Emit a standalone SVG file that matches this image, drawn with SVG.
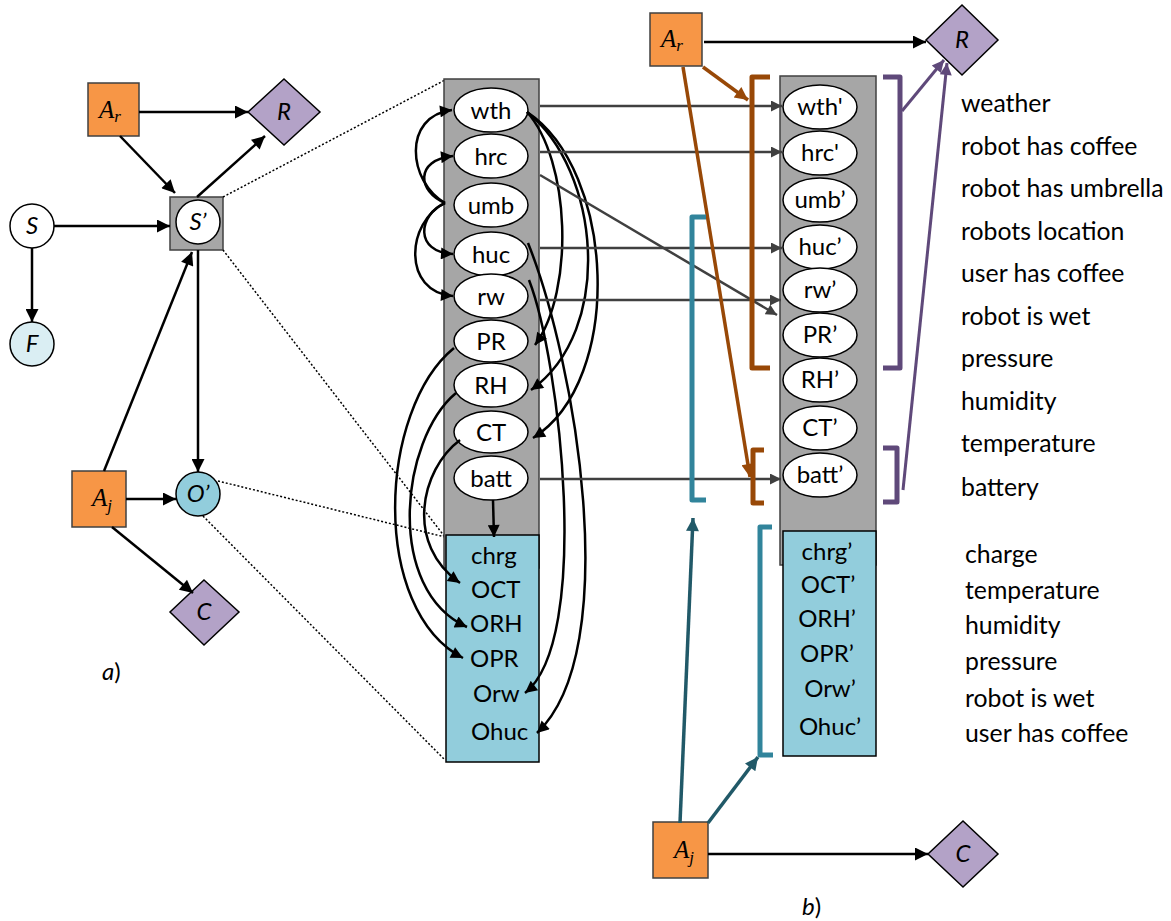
<svg xmlns="http://www.w3.org/2000/svg" width="1171" height="921" viewBox="0 0 1171 921">
  <defs>
    <style>
      .lbl{font-family:Lato,"Liberation Sans",sans-serif;font-size:24px;fill:#000}
      .leg{font-size:24.8px}
      .it{font-style:italic}
      .mid{text-anchor:middle}
      .math{font-family:"Liberation Serif",serif;font-style:italic;font-size:25px;fill:#000}
      .sub{font-size:17px}
      .act{fill:#F79646;stroke:#404040;stroke-width:1.5}
      .util{fill:#B3A2C7;stroke:#000;stroke-width:1.5}
      .var{fill:#fff;stroke:#000;stroke-width:1.5}
      .col{fill:#A6A6A6;stroke:#404040;stroke-width:1.5}
      .obs{fill:#92CDDC;stroke:#000;stroke-width:1.5}
      .blk{fill:none;stroke:#000;stroke-width:2.5}
      .crv{fill:none;stroke:#000;stroke-width:2.5}
      .gry{fill:none;stroke:#404040;stroke-width:2.5}
      .dot{fill:none;stroke:#000;stroke-width:1.5;stroke-dasharray:2 2}
      .org{fill:none;stroke:#984807;stroke-width:3.5}
      .tea{fill:none;stroke:#215968;stroke-width:3.5}
      .pur{fill:none;stroke:#5F497A;stroke-width:3}
      .brO{fill:none;stroke:#984807;stroke-width:5;stroke-linejoin:round}
      .brP{fill:none;stroke:#5F497A;stroke-width:5;stroke-linejoin:round}
      .brT{fill:none;stroke:#31849B;stroke-width:5;stroke-linejoin:round}
    </style>
    <marker id="ah" viewBox="0 0 10 10" refX="10" refY="5" markerWidth="15" markerHeight="13" markerUnits="userSpaceOnUse" orient="auto">
      <path d="M0,0 L10,5 L0,10 z" fill="#000"/>
    </marker>
    <marker id="ahs" viewBox="0 0 10 10" refX="10" refY="5" markerWidth="14" markerHeight="12" markerUnits="userSpaceOnUse" orient="auto">
      <path d="M0,0 L10,5 L0,10 z" fill="#000"/>
    </marker>
    <marker id="ahg" viewBox="0 0 10 10" refX="10" refY="5" markerWidth="13" markerHeight="11" markerUnits="userSpaceOnUse" orient="auto">
      <path d="M0,0 L10,5 L0,10 z" fill="#404040"/>
    </marker>
    <marker id="aho" viewBox="0 0 10 10" refX="10" refY="5" markerWidth="15" markerHeight="13" markerUnits="userSpaceOnUse" orient="auto">
      <path d="M0,0 L10,5 L0,10 z" fill="#984807"/>
    </marker>
    <marker id="aht" viewBox="0 0 10 10" refX="10" refY="5" markerWidth="15" markerHeight="13" markerUnits="userSpaceOnUse" orient="auto">
      <path d="M0,0 L10,5 L0,10 z" fill="#215968"/>
    </marker>
    <marker id="ahp" viewBox="0 0 10 10" refX="10" refY="5" markerWidth="14" markerHeight="12" markerUnits="userSpaceOnUse" orient="auto">
      <path d="M0,0 L10,5 L0,10 z" fill="#5F497A"/>
    </marker>
  </defs>

  <rect width="1171" height="921" fill="#fff"/>

  <!-- (a) compact influence diagram -->
  <g id="a-Ar"><rect class="act" x="88" y="83" width="51" height="53"/><text class="math" x="99" y="118">A<tspan class="sub" dy="4">r</tspan></text></g>
  <g id="a-R"><path class="util" d="M284,79 L320,112 L284,145 L248,112 z"/><text class="lbl it mid" x="284" y="120">R</text></g>
  <g id="a-S"><circle class="var" cx="32" cy="226" r="22"/><text class="lbl it mid" x="32" y="234">S</text></g>
  <g id="a-F"><circle cx="32" cy="344" r="22" fill="#DAEEF3" stroke="#000" stroke-width="1.5"/><text class="lbl it mid" x="32" y="352">F</text></g>
  <g id="a-Sp"><rect class="col" x="170" y="197" width="53" height="53"/><circle class="var" cx="198" cy="222" r="22"/><text class="lbl it mid" x="198" y="230">S’</text></g>
  <g id="a-Aj"><rect class="act" x="72" y="471" width="54" height="56"/><text class="math" x="92" y="506">A<tspan class="sub" dy="5">j</tspan></text></g>
  <g id="a-Op"><circle class="obs" cx="198" cy="494" r="22"/><text class="lbl it mid" x="198" y="502">O’</text></g>
  <g id="a-C"><path class="util" d="M204,580 L239,612 L204,645 L170,612 z"/><text class="lbl it mid" x="204" y="620">C</text></g>
  <text class="lbl" x="102" y="680"><tspan class="it">a</tspan>)</text>

  <!-- (a) connectors and zoom guides -->
  <g id="a-edges">
    <line class="blk" x1="139" y1="112" x2="248" y2="112" marker-end="url(#ah)"/>
    <line class="blk" x1="120" y1="136" x2="175" y2="193" marker-end="url(#ah)"/>
    <line class="blk" x1="197" y1="197" x2="265" y2="136" marker-end="url(#ah)"/>
    <line class="blk" x1="54" y1="226" x2="170" y2="226" marker-end="url(#ah)"/>
    <line class="blk" x1="32" y1="248" x2="32" y2="322" marker-end="url(#ah)"/>
    <line class="blk" x1="104" y1="471" x2="192" y2="252" marker-end="url(#ah)"/>
    <line class="blk" x1="198" y1="250" x2="198" y2="472" marker-end="url(#ah)"/>
    <line class="blk" x1="126" y1="499" x2="176" y2="499" marker-end="url(#ah)"/>
    <line class="blk" x1="112" y1="527" x2="193" y2="593" marker-end="url(#ah)"/>
    <line class="dot" x1="223" y1="197" x2="445" y2="80"/>
    <line class="dot" x1="223" y1="250" x2="445" y2="537"/>
    <line class="dot" x1="218" y1="481" x2="445" y2="537"/>
    <line class="dot" x1="203" y1="516" x2="445" y2="760"/>
  </g>

  <!-- expanded state / observation variables at time t -->
  <g id="col-t">
    <rect class="col" x="444" y="79" width="95" height="489"/>
    <rect class="obs" x="446" y="535" width="93" height="227"/>
  </g>
  <g id="n-wth"><ellipse class="var" cx="491" cy="110" rx="37" ry="22"/><text class="lbl mid" x="491" y="119">wth</text></g>
  <g id="n-hrc"><ellipse class="var" cx="491" cy="156" rx="37" ry="22"/><text class="lbl mid" x="491" y="165">hrc</text></g>
  <g id="n-umb"><ellipse class="var" cx="491" cy="205" rx="37" ry="22"/><text class="lbl mid" x="491" y="214">umb</text></g>
  <g id="n-huc"><ellipse class="var" cx="491" cy="254" rx="37" ry="22"/><text class="lbl mid" x="491" y="263">huc</text></g>
  <g id="n-rw"><ellipse class="var" cx="491" cy="296" rx="37" ry="22"/><text class="lbl mid" x="491" y="305">rw</text></g>
  <g id="n-PR"><ellipse class="var" cx="491" cy="341" rx="37" ry="21"/><text class="lbl mid" x="491" y="350">PR</text></g>
  <g id="n-RH"><ellipse class="var" cx="491" cy="385" rx="37" ry="22"/><text class="lbl mid" x="491" y="394">RH</text></g>
  <g id="n-CT"><ellipse class="var" cx="491" cy="432" rx="37" ry="21"/><text class="lbl mid" x="491" y="441">CT</text></g>
  <g id="n-batt"><ellipse class="var" cx="491" cy="478" rx="37" ry="22"/><text class="lbl mid" x="491" y="487">batt</text></g>
  <g id="n-obs">
    <text class="lbl" x="471" y="564">chrg</text>
    <text class="lbl" x="471" y="598">OCT</text>
    <text class="lbl" x="470" y="632">ORH</text>
    <text class="lbl" x="470" y="667">OPR</text>
    <text class="lbl" x="473" y="702">Orw</text>
    <text class="lbl" x="471" y="740">Ohuc</text>
  </g>

  <!-- expanded variables at time t+1 -->
  <g id="col-t1">
    <rect class="col" x="780" y="76" width="96" height="489"/>
    <rect class="obs" x="783" y="531" width="93" height="225"/>
  </g>
  <g id="n-wth1"><ellipse class="var" cx="820" cy="107" rx="37" ry="22"/><text class="lbl mid" x="820" y="115">wth'</text></g>
  <g id="n-hrc1"><ellipse class="var" cx="820" cy="153" rx="37" ry="22"/><text class="lbl mid" x="820" y="161">hrc'</text></g>
  <g id="n-umb1"><ellipse class="var" cx="820" cy="200" rx="37" ry="22"/><text class="lbl mid" x="820" y="208">umb’</text></g>
  <g id="n-huc1"><ellipse class="var" cx="820" cy="247" rx="37" ry="22"/><text class="lbl mid" x="820" y="255">huc’</text></g>
  <g id="n-rw1"><ellipse class="var" cx="820" cy="290" rx="37" ry="22"/><text class="lbl mid" x="820" y="298">rw’</text></g>
  <g id="n-PR1"><ellipse class="var" cx="820" cy="335" rx="37" ry="22"/><text class="lbl mid" x="820" y="343">PR’</text></g>
  <g id="n-RH1"><ellipse class="var" cx="820" cy="380" rx="37" ry="22"/><text class="lbl mid" x="820" y="388">RH’</text></g>
  <g id="n-CT1"><ellipse class="var" cx="820" cy="428" rx="37" ry="22"/><text class="lbl mid" x="820" y="436">CT’</text></g>
  <g id="n-batt1"><ellipse class="var" cx="820" cy="475" rx="37" ry="22"/><text class="lbl mid" x="820" y="483">batt’</text></g>
  <g id="n-obs1">
    <text class="lbl mid" x="827" y="560">chrg’</text>
    <text class="lbl mid" x="828" y="593">OCT’</text>
    <text class="lbl mid" x="827" y="627">ORH’</text>
    <text class="lbl mid" x="827" y="662">OPR’</text>
    <text class="lbl mid" x="830" y="697">Orw’</text>
    <text class="lbl mid" x="830" y="735">Ohuc’</text>
  </g>

  <!-- (b) action and utility nodes -->
  <g id="b-Ar"><rect class="act" x="650" y="13" width="52" height="53"/><text class="math" x="661" y="47">A<tspan class="sub" dy="4">r</tspan></text></g>
  <g id="b-R"><path class="util" d="M962,5 L998,40 L962,75 L926,40 z"/><text class="lbl it mid" x="962" y="48">R</text></g>
  <g id="b-Aj"><rect class="act" x="653" y="822" width="55" height="56"/><text class="math" x="674" y="858">A<tspan class="sub" dy="5">j</tspan></text></g>
  <g id="b-C"><path class="util" d="M963,821 L998,854 L963,887 L928,854 z"/><text class="lbl it mid" x="963" y="862">C</text></g>
  <text class="lbl" x="802" y="915"><tspan class="it">b</tspan>)</text>

  <!-- variable descriptions -->
  <g id="legend">
    <text class="lbl leg" x="961" y="112">weather</text>
    <text class="lbl leg" x="961" y="155">robot has coffee</text>
    <text class="lbl leg" x="961" y="197">robot has umbrella</text>
    <text class="lbl leg" x="961" y="240">robots location</text>
    <text class="lbl leg" x="961" y="282">user has coffee</text>
    <text class="lbl leg" x="961" y="325">robot is wet</text>
    <text class="lbl leg" x="961" y="367">pressure</text>
    <text class="lbl leg" x="961" y="410">humidity</text>
    <text class="lbl leg" x="961" y="452">temperature</text>
    <text class="lbl leg" x="961" y="496">battery</text>
    <text class="lbl leg" x="965" y="563">charge</text>
    <text class="lbl leg" x="965" y="599">temperature</text>
    <text class="lbl leg" x="965" y="634">humidity</text>
    <text class="lbl leg" x="965" y="670">pressure</text>
    <text class="lbl leg" x="965" y="707">robot is wet</text>
    <text class="lbl leg" x="965" y="742">user has coffee</text>
  </g>

  <!-- connectors of the expanded model -->
  <g id="edges">
    <!-- intra-slice dependencies -->
    <path class="crv" d="M445,203 C408,182 402,116 452,110" marker-end="url(#ahs)"/>
    <path class="crv" d="M445,203 C418,192 414,160 453,156" marker-end="url(#ahs)"/>
    <path class="crv" d="M445,203 C418,215 414,252 453,254" marker-end="url(#ahs)"/>
    <path class="crv" d="M445,203 C406,222 402,292 453,296" marker-end="url(#ahs)"/>
    <path class="crv" d="M527,112 C570,160 575,290 535,345" marker-end="url(#ahs)"/>
    <path class="crv" d="M527,112 C600,170 615,330 531,390" marker-end="url(#ahs)"/>
    <path class="crv" d="M527,112 C615,170 625,380 533,438" marker-end="url(#ahs)"/>
    <path class="crv" d="M528,243 C575,360 625,650 537,733" marker-end="url(#ahs)"/>
    <path class="crv" d="M529,280 C560,360 592,640 525,693" marker-end="url(#ahs)"/>
    <path class="crv" d="M454,348 C378,410 370,610 463,658" marker-end="url(#ahs)"/>
    <path class="crv" d="M456,393 C400,440 385,590 467,627" marker-end="url(#ahs)"/>
    <path class="crv" d="M460,440 C420,470 405,545 460,583" marker-end="url(#ahs)"/>
    <line class="crv" x1="493" y1="500" x2="494" y2="537" marker-end="url(#ahs)"/>
    <!-- inter-slice dependencies -->
    <line class="gry" x1="540" y1="106" x2="782" y2="106" marker-end="url(#ahg)"/>
    <line class="gry" x1="540" y1="152" x2="782" y2="152" marker-end="url(#ahg)"/>
    <line class="gry" x1="540" y1="175" x2="777" y2="315" marker-end="url(#ahg)"/>
    <line class="gry" x1="540" y1="248" x2="782" y2="248" marker-end="url(#ahg)"/>
    <line class="gry" x1="540" y1="300" x2="781" y2="300" marker-end="url(#ahg)"/>
    <line class="gry" x1="540" y1="479" x2="781" y2="479" marker-end="url(#ahg)"/>
    <!-- action / utility influences -->
    <line class="blk" x1="704" y1="42" x2="926" y2="42" marker-end="url(#ah)"/>
    <line class="blk" x1="708" y1="854" x2="928" y2="854" marker-end="url(#ah)"/>
    <line class="org" x1="703" y1="67" x2="748" y2="100" marker-end="url(#aho)"/>
    <line class="org" x1="683" y1="67" x2="750" y2="477" marker-end="url(#aho)"/>
    <line class="tea" x1="680" y1="823" x2="693" y2="518" marker-end="url(#aht)"/>
    <line class="tea" x1="708" y1="823" x2="758" y2="757" marker-end="url(#aht)"/>
    <line class="pur" x1="902" y1="111" x2="944" y2="60" marker-end="url(#ahp)"/>
    <line class="pur" x1="903" y1="490" x2="947" y2="63" marker-end="url(#ahp)"/>
    <!-- grouping brackets -->
    <path class="brO" d="M770,77 H752 V368 H770"/>
    <path class="brO" d="M764,450 H753 V503 H764"/>
    <path class="brP" d="M883,77 H900 V368 H883"/>
    <path class="brP" d="M883,448 H897 V502 H883"/>
    <path class="brT" d="M706,217 H692 V500 H706"/>
    <path class="brT" d="M772,527 H760 V755 H773"/>
  </g>
</svg>
